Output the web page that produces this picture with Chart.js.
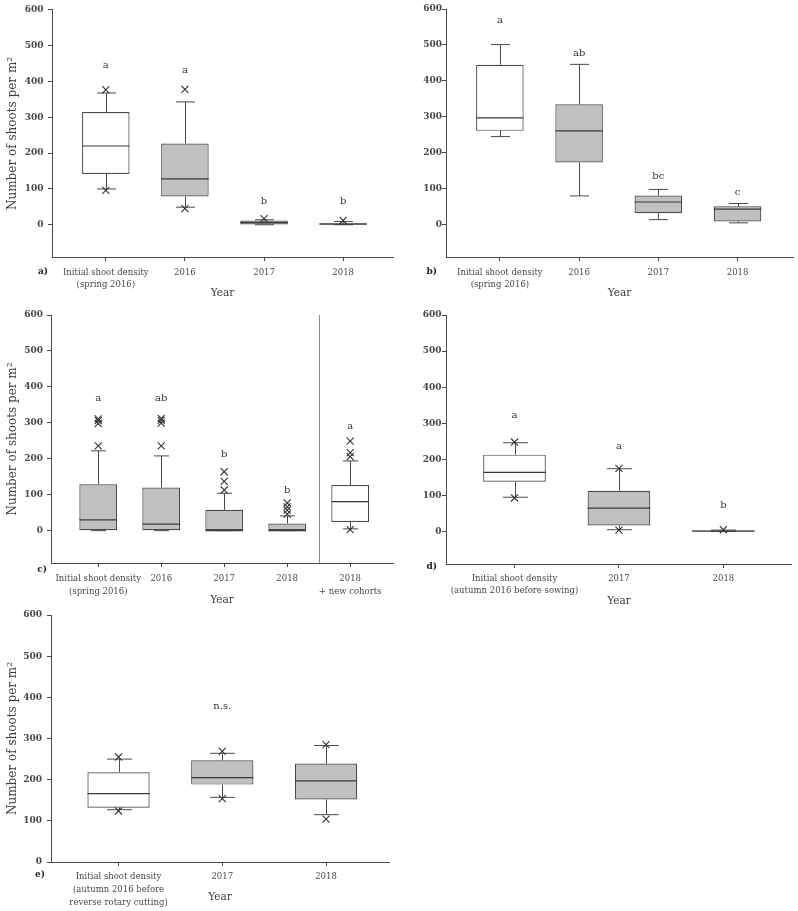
<!DOCTYPE html>
<html>
<head>
<meta charset="utf-8">
<script src="https://cdn.jsdelivr.net/npm/chart.js@4.4.0/dist/chart.umd.min.js"></script>
<style>
html, body { margin: 0; padding: 0; background: #fff; }
#fig { position: relative; width: 798px; height: 911px; overflow: hidden; }
#fig canvas { position: absolute; }
</style>
</head>
<body>
<div id="fig">
  <canvas id="chartA" width="400" height="305" style="left:0px;top:0px"></canvas>
  <canvas id="chartB" width="398" height="305" style="left:400px;top:0px"></canvas>
  <canvas id="chartC" width="400" height="305" style="left:0px;top:305px"></canvas>
  <canvas id="chartD" width="398" height="305" style="left:400px;top:305px"></canvas>
  <canvas id="chartE" width="400" height="311" style="left:0px;top:600px"></canvas>
</div>
<script>
// shared y ticks (shoots per m2)
var yTicks = [0, 100, 200, 300, 400, 500, 600];

// panel a) spring 2016 plots
var aCats = [['Initial shoot density', '(spring 2016)'], '2016', '2017', '2018'];
var aLow = [100, 49, 0, 0];
var aQ1 = [142, 79, 1, 0];
var aMedian = [220, 128, 6, 2];
var aQ3 = [315, 227, 12, 4];
var aHigh = [368, 343, 14, 9];
var aOutX = [0, 0, 1, 1, 2, 3];
var aOutY = [377, 96, 378, 45, 17, 12];
var aLetters = ['a', 'a', 'b', 'b'];
var aLetterY = [444, 430, 64, 64];

// panel b)
var bCats = [['Initial shoot density', '(spring 2016)'], '2016', '2017', '2018'];
var bLow = [245, 80, 14, 5];
var bQ1 = [261, 173, 32, 9];
var bMedian = [297, 261, 63, 43];
var bQ3 = [445, 335, 81, 51];
var bHigh = [501, 446, 98, 59];
var bOutX = [];
var bOutY = [];
var bLetters = ['a', 'ab', 'bc', 'c'];
var bLetterY = [567, 477, 134, 90];

// panel c) incl. new cohorts
var cCats = [['Initial shoot density', '(spring 2016)'], '2016', '2017', '2018', ['2018', '+ new cohorts']];
var cLow = [0, 0, 0, 0, 5];
var cQ1 = [0, 0, 0, 0, 24];
var cMedian = [30, 18, 0, 0, 81];
var cQ3 = [129, 120, 58, 20, 127];
var cHigh = [222, 208, 104, 41, 194];
var cOutX = [0, 0, 0, 0, 1, 1, 1, 1, 2, 2, 2, 3, 3, 3, 3, 4, 4, 4, 4];
var cOutY = [236, 298, 306, 311, 236, 299, 307, 312, 113, 137, 164, 46, 57, 66, 77, 3, 206, 217, 249];
var cLetters = ['a', 'ab', 'b', 'b', 'a'];
var cLetterY = [367, 367, 212, 111, 289];

// panel d) autumn 2016 before sowing
var dCats = [['Initial shoot density', '(autumn 2016 before sowing)'], '2017', '2018'];
var dLow = [95, 5, 0];
var dQ1 = [138, 17, 0];
var dMedian = [164, 65, 1];
var dQ3 = [213, 113, 3];
var dHigh = [246, 174, 4];
var dOutX = [0, 0, 1, 1, 2];
var dOutY = [248, 93, 175, 4, 5];
var dLetters = ['a', 'a', 'b'];
var dLetterY = [321, 235, 73];

// panel e) reverse rotary cutting
var eCats = [['Initial shoot density', '(autumn 2016 before', 'reverse rotary cutting)'], '2017', '2018'];
var eLow = [127, 157, 115];
var eQ1 = [132, 188, 152];
var eMedian = [166, 205, 197];
var eQ3 = [218, 247, 239];
var eHigh = [250, 264, 283];
var eOutX = [0, 0, 1, 1, 2, 2];
var eOutY = [255, 124, 269, 154, 285, 104];
var eLetters = ['', 'n.s.', ''];
var eLetterY = [null, 379, null];

var INK = '#4a4a4a';
var TEXT = '#484848';
var GREY = '#c0c0c0';
var WHITE = '#ffffff';
var FONT = "'DejaVu Serif', serif";

Chart.defaults.font.family = FONT;
Chart.defaults.color = TEXT;

function boxParts(p) {
  return {
    id: 'boxParts',
    beforeDatasetsDraw: function (chart) {
      var ctx = chart.ctx, xs = chart.scales.x, ys = chart.scales.y, area = chart.chartArea;
      var bars = chart.getDatasetMeta(1).data;
      ctx.save();
      ctx.strokeStyle = INK;
      ctx.lineWidth = 1;
      ctx.beginPath();
      p.median.forEach(function (m, i) {
        var cx = Math.round(xs.getPixelForValue(i)) + 0.5;
        var cap = bars[i].width * 0.2;
        var yHi = ys.getPixelForValue(p.high[i]), yQ3 = ys.getPixelForValue(p.q3[i]);
        var yLo = ys.getPixelForValue(p.low[i]), yQ1 = ys.getPixelForValue(p.q1[i]);
        ctx.moveTo(cx, yQ3); ctx.lineTo(cx, yHi);
        ctx.moveTo(cx, yQ1); ctx.lineTo(cx, yLo);
        ctx.moveTo(cx - cap, yHi); ctx.lineTo(cx + cap, yHi);
        ctx.moveTo(cx - cap, yLo); ctx.lineTo(cx + cap, yLo);
      });
      ctx.stroke();
      if (p.divider !== undefined) {
        var dx = Math.round(xs.getPixelForValue(p.divider)) + 0.5;
        ctx.strokeStyle = '#8a8a8a';
        ctx.beginPath();
        ctx.moveTo(dx, area.top);
        ctx.lineTo(dx, area.bottom);
        ctx.stroke();
      }
      ctx.restore();
    },
    afterDatasetsDraw: function (chart) {
      var ctx = chart.ctx, xs = chart.scales.x, ys = chart.scales.y, area = chart.chartArea;
      var bars = chart.getDatasetMeta(1).data;
      ctx.save();
      // medians on top of the boxes
      ctx.strokeStyle = '#3a3a3a';
      ctx.lineWidth = 1.2;
      ctx.beginPath();
      p.median.forEach(function (m, i) {
        var b = bars[i];
        var my = ys.getPixelForValue(m);
        ctx.moveTo(b.x - b.width / 2, my);
        ctx.lineTo(b.x + b.width / 2, my);
      });
      ctx.stroke();
      // significance letters
      ctx.fillStyle = '#333';
      ctx.font = '10px ' + FONT;
      ctx.textAlign = 'center';
      ctx.textBaseline = 'middle';
      p.letters.forEach(function (t, i) {
        if (!t) return;
        ctx.fillText(t, xs.getPixelForValue(i), ys.getPixelForValue(p.letterY[i]));
      });
      // panel tag
      ctx.fillStyle = '#222';
      ctx.font = 'bold 9px ' + FONT;
      ctx.textAlign = 'right';
      ctx.fillText(p.tag, area.left - p.tagGap, area.bottom + p.tagDy);
      ctx.restore();
    }
  };
}

function makeBoxChart(id, p) {
  var idx = p.cats.map(function (c, i) { return i; });
  var boxes = idx.map(function (i) { return { x: i, y: [p.q1[i], p.q3[i]] }; });
  var outliers = p.outX.map(function (x, k) { return { x: x, y: p.outY[k] }; });

  var yTitle = { display: false };
  if (p.yTitle) {
    yTitle = {
      display: true,
      text: 'Number of shoots per m\u00b2',
      color: '#3c3c3c',
      font: { size: 12 },
      padding: { top: 5.5, bottom: 0 }
    };
  }

  return new Chart(document.getElementById(id), {
    type: 'bar',
    data: {
      datasets: [
        {
          type: 'scatter',
          data: outliers,
          order: 0,
          pointStyle: 'crossRot',
          pointRadius: 5,
          borderColor: '#333',
          borderWidth: 1.1,
          backgroundColor: 'transparent'
        },
        {
          type: 'bar',
          data: boxes,
          order: 1,
          backgroundColor: p.fills,
          borderColor: INK,
          borderWidth: 1.2,
          borderSkipped: false,
          barPercentage: 0.6,
          categoryPercentage: 1
        }
      ]
    },
    options: {
      responsive: false,
      animation: false,
      devicePixelRatio: 1,
      layout: { padding: { top: p.padTop, right: p.padRight, left: 0, bottom: 0 } },
      plugins: {
        legend: { display: false },
        tooltip: { enabled: false }
      },
      scales: {
        x: {
          type: 'linear',
          min: p.xMin,
          max: p.xMax,
          offset: false,
          afterBuildTicks: function (axis) {
            axis.ticks = idx.map(function (i) { return { value: i }; });
          },
          afterFit: function (axis) { axis.height = p.xHeight; },
          ticks: {
            autoSkip: false,
            maxRotation: 0,
            padding: p.xPad,
            color: TEXT,
            font: { size: 8.5, lineHeight: 1.5 },
            callback: function (v) { return p.cats[v]; }
          },
          grid: { drawOnChartArea: false, offset: false, tickLength: 4, color: INK },
          border: { color: INK, width: 1 },
          title: {
            display: true,
            text: 'Year',
            color: '#3c3c3c',
            font: { size: 10.5 },
            padding: { top: 0, bottom: p.yearPad }
          }
        },
        y: {
          type: 'linear',
          min: p.yMin,
          max: 600,
          afterBuildTicks: function (axis) {
            axis.ticks = yTicks.map(function (v) { return { value: v }; });
          },
          afterFit: function (axis) { axis.width = p.yWidth; },
          ticks: {
            autoSkip: false,
            padding: p.yPad,
            color: TEXT,
            font: { size: 9, weight: 'bold' }
          },
          grid: { drawOnChartArea: false, tickLength: 4, color: INK },
          border: { color: INK, width: 1 },
          title: yTitle
        }
      }
    },
    plugins: [boxParts(p)]
  });
}

makeBoxChart('chartA', {
  cats: aCats, low: aLow, q1: aQ1, median: aMedian, q3: aQ3, high: aHigh,
  outX: aOutX, outY: aOutY, letters: aLetters, letterY: aLetterY,
  fills: [WHITE, GREY, GREY, GREY],
  tag: 'a)', tagGap: 4, tagDy: 15,
  yMin: -90, xMin: -0.68, xMax: 3.63,
  yWidth: 52, yPad: 4.5, xHeight: 48, xPad: 5, padTop: 9, padRight: 7,
  yearPad: 5.2, yTitle: true
});

makeBoxChart('chartB', {
  cats: bCats, low: bLow, q1: bQ1, median: bMedian, q3: bQ3, high: bHigh,
  outX: bOutX, outY: bOutY, letters: bLetters, letterY: bLetterY,
  fills: [WHITE, GREY, GREY, GREY],
  tag: 'b)', tagGap: 9, tagDy: 15,
  yMin: -90, xMin: -0.68, xMax: 3.70,
  yWidth: 46, yPad: 0, xHeight: 48, xPad: 5, padTop: 9, padRight: 5,
  yearPad: 5.7, yTitle: false
});

makeBoxChart('chartC', {
  cats: cCats, low: cLow, q1: cQ1, median: cMedian, q3: cQ3, high: cHigh,
  outX: cOutX, outY: cOutY, letters: cLetters, letterY: cLetterY,
  fills: [GREY, GREY, GREY, GREY, WHITE],
  divider: 3.5,
  tag: 'c)', tagGap: 4, tagDy: 7,
  yMin: -90, xMin: -0.75, xMax: 4.68,
  yWidth: 51, yPad: 4, xHeight: 47, xPad: 5.8, padTop: 10, padRight: 7,
  yearPad: 3.7, yTitle: true
});

makeBoxChart('chartD', {
  cats: dCats, low: dLow, q1: dQ1, median: dMedian, q3: dQ3, high: dHigh,
  outX: dOutX, outY: dOutY, letters: dLetters, letterY: dLetterY,
  fills: [WHITE, GREY, GREY],
  tag: 'd)', tagGap: 9, tagDy: 3,
  yMin: -90, xMin: -0.656, xMax: 2.656,
  yWidth: 46, yPad: 0.5, xHeight: 46, xPad: 4, padTop: 10, padRight: 5,
  yearPad: 2.7, yTitle: false
});

makeBoxChart('chartE', {
  cats: eCats, low: eLow, q1: eQ1, median: eMedian, q3: eQ3, high: eHigh,
  outX: eOutX, outY: eOutY, letters: eLetters, letterY: eLetterY,
  fills: [WHITE, GREY, GREY],
  tag: 'e)', tagGap: 6, tagDy: 13,
  yMin: 0, xMin: -0.651, xMax: 2.607,
  yWidth: 51, yPad: 5, xHeight: 49, xPad: 4.9, padTop: 15, padRight: 11,
  yearPad: 7.7, yTitle: true
});
</script>
</body>
</html>
